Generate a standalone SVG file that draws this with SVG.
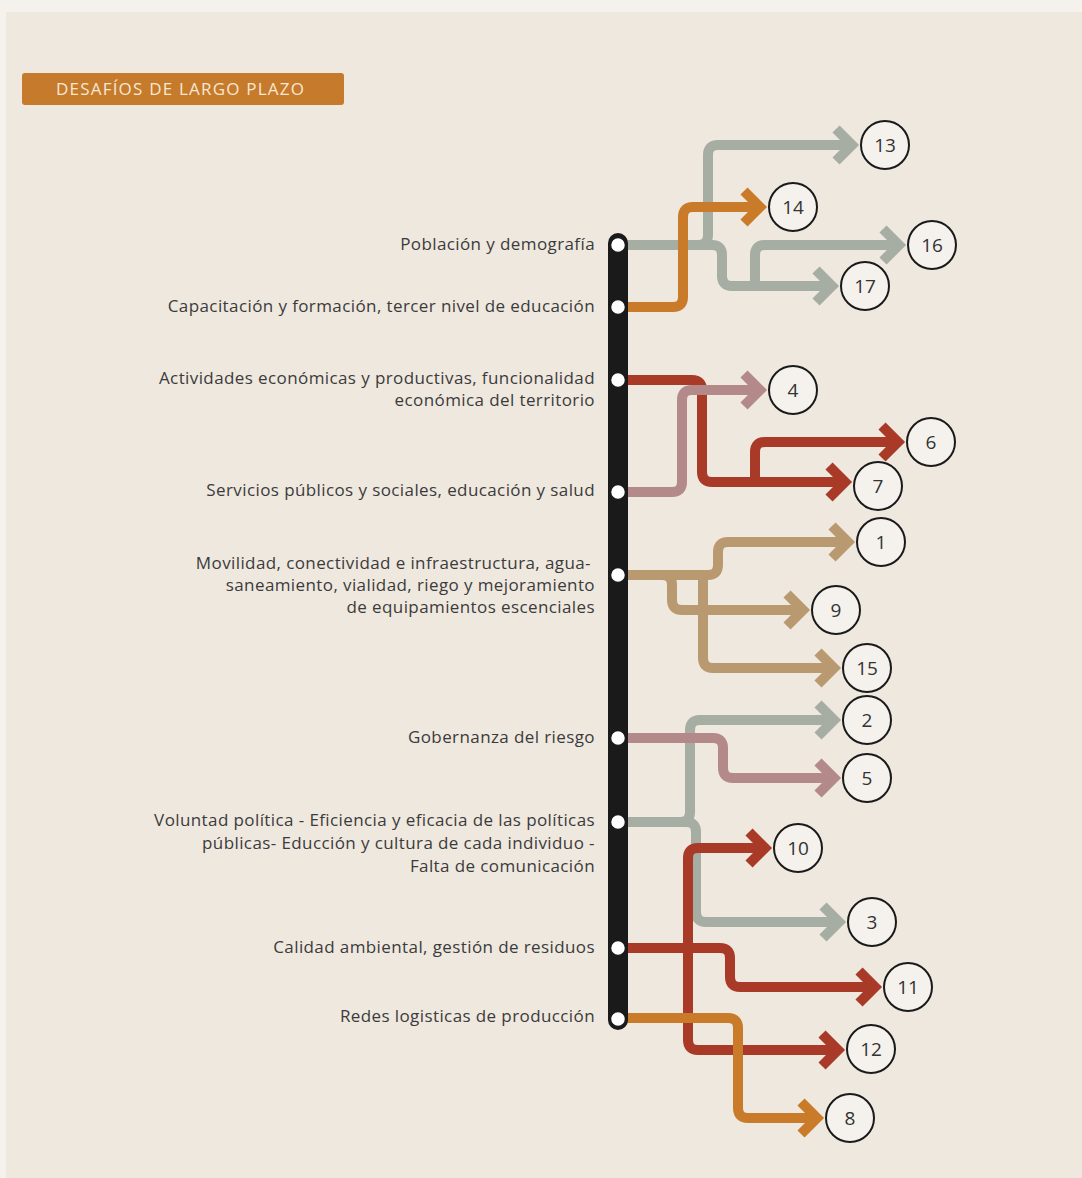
<svg xmlns="http://www.w3.org/2000/svg" width="1082" height="1178" viewBox="0 0 1082 1178">
<style>
.lbl{font-family:"Open Sans","Liberation Sans",sans-serif;font-size:17px;letter-spacing:0.4px;fill:#3b3b3b;text-anchor:end}
.num{font-family:"Open Sans","Liberation Sans",sans-serif;font-size:19px;fill:#333;text-anchor:middle;dominant-baseline:central}
.c{fill:#f5f2ed;stroke:#1a1a1a;stroke-width:2}
.ln{fill:none;stroke-width:10;stroke-linejoin:round}
.gray{stroke:#a6ada3}.orange{stroke:#c97b2a}.red{stroke:#a93a28}.mauve{stroke:#b3898a}.tan{stroke:#b99a70}
.dot{fill:#ffffff;stroke:#1a1a1a;stroke-width:1.5}
</style>
<defs>
<marker id="ag" markerUnits="userSpaceOnUse" viewBox="-22 -20 34 40" markerWidth="34" markerHeight="40" refX="0" refY="0" orient="auto" overflow="visible"><path d="M-16,-16 L0,0 L-16,16" fill="none" stroke="#a6ada3" stroke-width="10"/></marker>
<marker id="ao" markerUnits="userSpaceOnUse" viewBox="-22 -20 34 40" markerWidth="34" markerHeight="40" refX="0" refY="0" orient="auto" overflow="visible"><path d="M-16,-16 L0,0 L-16,16" fill="none" stroke="#c97b2a" stroke-width="10"/></marker>
<marker id="ar" markerUnits="userSpaceOnUse" viewBox="-22 -20 34 40" markerWidth="34" markerHeight="40" refX="0" refY="0" orient="auto" overflow="visible"><path d="M-16,-16 L0,0 L-16,16" fill="none" stroke="#a93a28" stroke-width="10"/></marker>
<marker id="am" markerUnits="userSpaceOnUse" viewBox="-22 -20 34 40" markerWidth="34" markerHeight="40" refX="0" refY="0" orient="auto" overflow="visible"><path d="M-16,-16 L0,0 L-16,16" fill="none" stroke="#b3898a" stroke-width="10"/></marker>
<marker id="at" markerUnits="userSpaceOnUse" viewBox="-22 -20 34 40" markerWidth="34" markerHeight="40" refX="0" refY="0" orient="auto" overflow="visible"><path d="M-16,-16 L0,0 L-16,16" fill="none" stroke="#b99a70" stroke-width="10"/></marker>
</defs>
<rect x="0" y="0" width="1082" height="1178" fill="#f5f2ee"/>
<rect x="6" y="12" width="1076" height="1166" fill="#efe8df"/>

<g id="title">
<rect x="22" y="73" width="322" height="32" rx="3" fill="#c67a2c"/>
<text x="56" y="95" font-family="'Open Sans','Liberation Sans',sans-serif" font-size="17" letter-spacing="1.2" fill="#f6e8d2">DESAFÍOS DE LARGO PLAZO</text>
</g>

<g id="connectors">
<path class="ln gray" d="M617,245 H698 Q708,245 708,235 V155 Q708,145 718,145 H852" marker-end="url(#ag)"/>
<path class="ln gray" d="M617,245 H712 Q722,245 722,255 V276 Q722,286 732,286 H832" marker-end="url(#ag)"/>
<path class="ln gray" d="M755,286 V255 Q755,245 765,245 H899" marker-end="url(#ag)"/>
<path class="ln orange" d="M617,307 H673 Q683,307 683,297 V217 Q683,207 693,207 H760" marker-end="url(#ao)"/>
<path class="ln red" d="M617,380 H692 Q702,380 702,390 V472 Q702,482 712,482 H845" marker-end="url(#ar)"/>
<path class="ln red" d="M755,482 V452 Q755,442 765,442 H898" marker-end="url(#ar)"/>
<path class="ln mauve" d="M617,492 H672 Q682,492 682,482 V400 Q682,390 692,390 H760" marker-end="url(#am)"/>
<path class="ln tan" d="M617,575 H708 Q718,575 718,565 V552 Q718,542 728,542 H848" marker-end="url(#at)"/>
<path class="ln tan" d="M662,575 Q672,575 672,585 V600 Q672,610 682,610 H803" marker-end="url(#at)"/>
<path class="ln tan" d="M703,575 V658 Q703,668 713,668 H834" marker-end="url(#at)"/>
<path class="ln gray" d="M617,822 H680 Q690,822 690,812 V730 Q690,720 700,720 H834" marker-end="url(#ag)"/>
<path class="ln gray" d="M617,822 H686 Q696,822 696,832 V912 Q696,922 706,922 H839" marker-end="url(#ag)"/>
<path class="ln mauve" d="M617,738 H713 Q723,738 723,748 V768 Q723,778 733,778 H834" marker-end="url(#am)"/>
<path class="ln red" d="M617,948 H688 V858 Q688,848 698,848 H765" marker-end="url(#ar)"/>
<path class="ln red" d="M688,948 V1040 Q688,1050 698,1050 H838" marker-end="url(#ar)"/>
<path class="ln red" d="M617,948 H720 Q730,948 730,958 V977 Q730,987 740,987 H875" marker-end="url(#ar)"/>
<path class="ln orange" d="M617,1018 H728 Q738,1018 738,1028 V1108 Q738,1118 748,1118 H817" marker-end="url(#ao)"/>
</g>

<g id="bar">
<rect x="608" y="233" width="20" height="797" rx="10" fill="#1a1a1a"/>
<circle class="dot" cx="618" cy="245" r="7.5"/>
<circle class="dot" cx="618" cy="307" r="7.5"/>
<circle class="dot" cx="618" cy="380" r="7.5"/>
<circle class="dot" cx="618" cy="492" r="7.5"/>
<circle class="dot" cx="618" cy="575" r="7.5"/>
<circle class="dot" cx="618" cy="738" r="7.5"/>
<circle class="dot" cx="618" cy="822" r="7.5"/>
<circle class="dot" cx="618" cy="948" r="7.5"/>
<circle class="dot" cx="618" cy="1019" r="7.5"/>
</g>

<g id="labels">
<text class="lbl" x="595" y="250">Población y demografía</text>
<text class="lbl" x="595" y="312">Capacitación y formación, tercer nivel de educación</text>
<text class="lbl" x="595" y="384">Actividades económicas y productivas, funcionalidad</text>
<text class="lbl" x="595" y="406">económica del territorio</text>
<text class="lbl" x="595" y="496">Servicios públicos y sociales, educación y salud</text>
<text class="lbl" x="591" y="569">Movilidad, conectividad e infraestructura, agua-</text>
<text class="lbl" x="595" y="591">saneamiento, vialidad, riego y mejoramiento</text>
<text class="lbl" x="595" y="613">de equipamientos escenciales</text>
<text class="lbl" x="595" y="743">Gobernanza del riesgo</text>
<text class="lbl" x="595" y="826">Voluntad política - Eficiencia y eficacia de las políticas</text>
<text class="lbl" x="595" y="849">públicas- Educción y cultura de cada individuo -</text>
<text class="lbl" x="595" y="872">Falta de comunicación</text>
<text class="lbl" x="595" y="953">Calidad ambiental, gestión de residuos</text>
<text class="lbl" x="595" y="1022">Redes logisticas de producción</text>
</g>

<g id="n13"><circle class="c" cx="885" cy="145" r="24"/><text class="num" x="885" y="145">13</text></g>
<g id="n14"><circle class="c" cx="793" cy="207" r="24"/><text class="num" x="793" y="207">14</text></g>
<g id="n16"><circle class="c" cx="932" cy="245" r="24"/><text class="num" x="932" y="245">16</text></g>
<g id="n17"><circle class="c" cx="865" cy="286" r="24"/><text class="num" x="865" y="286">17</text></g>
<g id="n4"><circle class="c" cx="793" cy="390" r="24"/><text class="num" x="793" y="390">4</text></g>
<g id="n6"><circle class="c" cx="931" cy="442" r="24"/><text class="num" x="931" y="442">6</text></g>
<g id="n7"><circle class="c" cx="878" cy="486" r="24"/><text class="num" x="878" y="486">7</text></g>
<g id="n1"><circle class="c" cx="881" cy="542" r="24"/><text class="num" x="881" y="542">1</text></g>
<g id="n9"><circle class="c" cx="836" cy="610" r="24"/><text class="num" x="836" y="610">9</text></g>
<g id="n15"><circle class="c" cx="867" cy="668" r="24"/><text class="num" x="867" y="668">15</text></g>
<g id="n2"><circle class="c" cx="867" cy="720" r="24"/><text class="num" x="867" y="720">2</text></g>
<g id="n5"><circle class="c" cx="867" cy="778" r="24"/><text class="num" x="867" y="778">5</text></g>
<g id="n10"><circle class="c" cx="798" cy="848" r="24"/><text class="num" x="798" y="848">10</text></g>
<g id="n3"><circle class="c" cx="872" cy="922" r="24"/><text class="num" x="872" y="922">3</text></g>
<g id="n11"><circle class="c" cx="908" cy="987" r="24"/><text class="num" x="908" y="987">11</text></g>
<g id="n12"><circle class="c" cx="871" cy="1049" r="24"/><text class="num" x="871" y="1049">12</text></g>
<g id="n8"><circle class="c" cx="850" cy="1118" r="24"/><text class="num" x="850" y="1118">8</text></g>
</svg>
